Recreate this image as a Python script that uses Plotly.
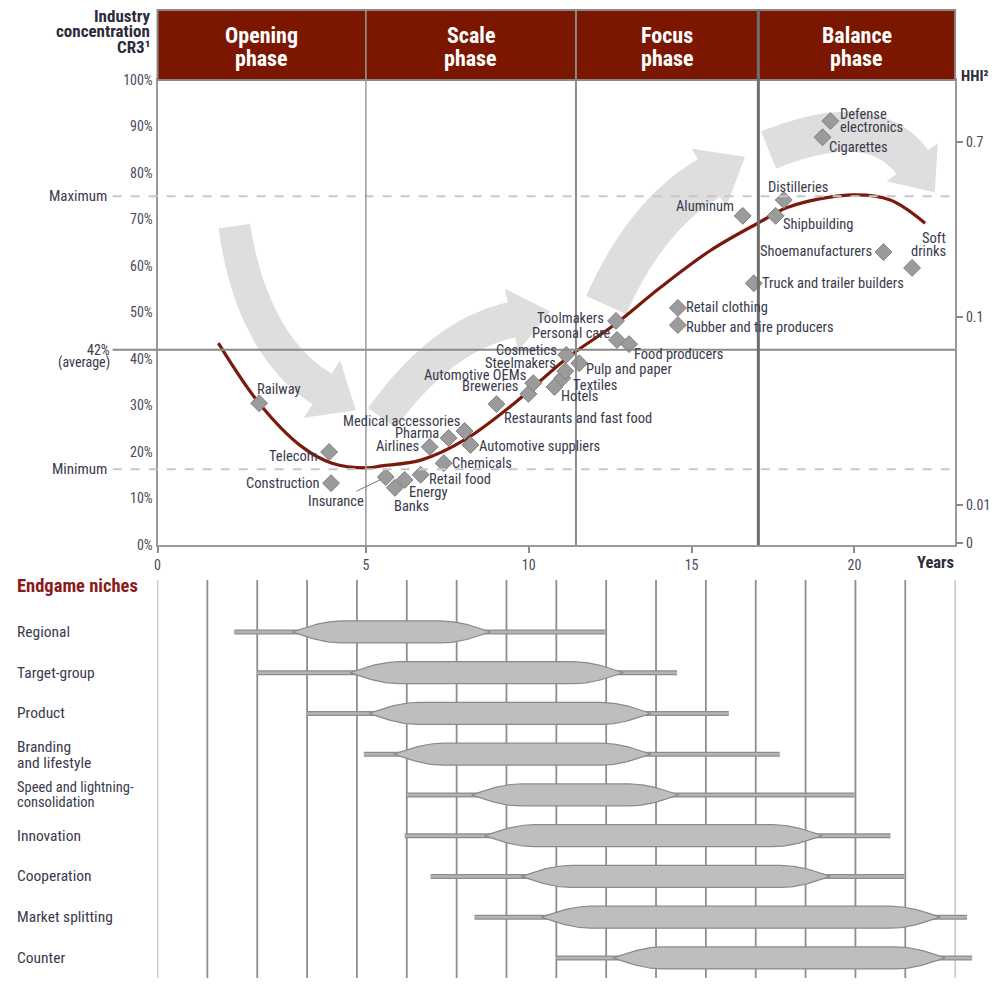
import math
import plotly.graph_objects as go

W, H = 995, 986
# measured vertical mapping of the photographed page: shown_y = OFF_Y + SCALE_Y * figure_y
OFF_Y, SCALE_Y = 7.9, 0.984
FONT = "Liberation Sans Narrow, Roboto Condensed, DejaVu Sans Condensed, Arial Narrow, sans-serif"
TXT = "#3a3a4c"
DARK = "#2c2c3c"
RED = "#7b1600"

# ---------------- data ----------------
phases = ["Opening<br>phase", "Scale<br>phase", "Focus<br>phase", "Balance<br>phase"]
phase_bounds = [5.0, 11.45, 17.05]          # years

x_tick_text = ["0", "5", "10", "15", "20"]
x_tick_years = [5, 10, 15, 20]               # "0" sits at the origin of the axis
y_ticks = [0, 10, 20, 30, 40, 50, 60, 70, 80, 90, 100]
y_tick_text = [f"{v}%" for v in y_ticks]

cr3_average = 42
cr3_maximum = 75
cr3_minimum = 16.3

hhi_text = ["0", "0.01", "0.1", "0.7"]
hhi_pos = [0.4, 8.6, 49.0, 86.7]

curve_years = [0.47, 1.72, 3.04, 3.96, 5.03, 5.49, 6.71, 8.03, 9.56, 11.21, 12.62,
               14.06, 15.59, 17.03, 17.98, 19.91, 21.1, 22.17]
curve_cr3 = [43.4, 30.5, 21.1, 17.6, 16.6, 17.0, 18.3, 22.6, 30.5, 40.4, 47.3,
             55.5, 63.4, 69.2, 72.7, 75.3, 74.2, 69.2]

industries = ["Railway", "Telecom", "Construction", "Insurance", "Banks", "Energy",
              "Retail food", "Chemicals", "Airlines", "Pharma", "Medical accessories",
              "Automotive suppliers", "Restaurants and fast food", "Breweries",
              "Automotive OEMs", "Hotels", "Textiles", "Steelmakers", "Cosmetics",
              "Pulp and paper", "Personal care", "Toolmakers", "Food producers",
              "Retail clothing", "Rubber and tire producers", "Aluminum",
              "Truck and trailer builders", "Distilleries", "Shipbuilding",
              "Shoemanufacturers", "Soft<br>drinks", "Cigarettes",
              "Defense<br>electronics"]
industry_years = [1.72, 3.87, 3.93, 5.61, 5.89, 6.19, 6.68, 7.39, 6.96, 7.54, 8.03,
                  8.21, 9.01, 9.99, 10.14, 10.79, 11.03, 11.12, 11.15, 11.55, 12.71,
                  12.68, 13.08, 14.58, 14.58, 16.57, 16.91, 17.83, 17.58, 20.89,
                  21.77, 19.02, 19.26]
industry_cr3 = [30.5, 20.0, 13.3, 14.6, 12.3, 14.0, 15.1, 17.6, 21.1, 23.0, 24.5,
                21.5, 30.3, 32.5, 34.8, 34.0, 35.9, 37.4, 40.9, 39.1, 44.1, 48.2,
                43.2, 51.0, 47.3, 70.8, 56.3, 74.2, 70.8, 63.0, 59.6, 87.7, 91.2]

niches = ["Regional", "Target-group", "Product", "Branding<br>and lifestyle",
          "Speed and lightning-<br>consolidation", "Innovation", "Cooperation",
          "Market splitting", "Counter"]
niche_start = [1.54, 2.0, 3.0, 4.14, 5.0, 4.96, 5.48, 6.36, 8.0]
niche_end = [8.98, 10.42, 11.46, 12.48, 13.98, 14.7, 14.98, 16.24, 16.34]
core_start = [2.7, 3.86, 4.24, 4.74, 6.3, 6.56, 7.3, 7.7, 9.14]
core_end = [6.68, 9.34, 9.9, 9.9, 10.46, 13.34, 13.5, 15.7, 15.8]

# ---------------- label placement (style) ----------------
label_style = [("left", -4, 14), ("right", -9, -5), ("right", -10, 0), None,
               ("center", 17, -19), ("center", 24, -13), ("left", 6, -5), ("left", 6, 0),
               ("right", -9, 0), ("right", -8, 5), ("right", -3, 10), ("left", 7, -1),
               ("left", 5, -14), ("right", -8, 7), ("right", -5, 8), ("left", 5, -10),
               ("left", 9, -7), ("right", -7, 8), ("right", -7, 4), ("left", 5, -6),
               ("right", -4, 6), ("right", -10, 2), ("left", 3, -10), ("left", 6, 0),
               ("left", 6, -2), ("right", -7, 9), ("left", 6, 0), ("center", 14, 13),
               ("left", 5, -9), ("right", -9, 1), ("right", 36, 23), ("left", 4, -10),
               ("left", 8, 0)]

# ---------------- geometry helpers ----------------
PX_L, PX_R, PX_T, PX_B = 155, 955, 80, 545
PX_PER_YEAR = (854 - 364) / 15.0
X0 = 5 - (364 - PX_L) / PX_PER_YEAR
X1 = 5 + (PX_R - 364) / PX_PER_YEAR


def px(x):
    return x / W


def fig_y(t):
    return (t - OFF_Y) / SCALE_Y


def py(t):
    return 1 - fig_y(t) / H


def arrow_path(p0, p1, p2, w0, w1, head_w, head_l, n=40):
    left, right = [], []
    for k in range(n + 1):
        t = k / n
        x = (1 - t) ** 2 * p0[0] + 2 * (1 - t) * t * p1[0] + t ** 2 * p2[0]
        y = (1 - t) ** 2 * p0[1] + 2 * (1 - t) * t * p1[1] + t ** 2 * p2[1]
        dx = 2 * (1 - t) * (p1[0] - p0[0]) + 2 * t * (p2[0] - p1[0])
        dy = 2 * (1 - t) * (p1[1] - p0[1]) + 2 * t * (p2[1] - p1[1])
        L = math.hypot(dx, dy)
        nx, ny = -dy / L, dx / L
        w = (w0 + (w1 - w0) * t) / 2
        left.append((x + nx * w, y + ny * w))
        right.append((x - nx * w, y - ny * w))
    tx, ty = dx / L, dy / L
    ex, ey = p2
    poly = left + [(ex + nx * head_w, ey + ny * head_w), (ex + tx * head_l, ey + ty * head_l),
                   (ex - nx * head_w, ey - ny * head_w)] + right[::-1]
    return "M " + " L ".join(f"{px(a):.4f},{py(b):.4f}" for a, b in poly) + " Z"


annotations = []


def add_text(text, x, y, xref, yref, anchor="center", xshift=0, yshift=0,
             spacing=14, size=14, color=TXT, bold=False):
    lines = text.split("<br>")
    n = len(lines)
    for k, ln in enumerate(lines):
        annotations.append(dict(
            x=x, y=y, xref=xref, yref=yref, text=f"<b>{ln}</b>" if bold else ln,
            showarrow=False, xanchor=anchor, yanchor="middle", align=anchor,
            xshift=xshift, yshift=yshift + ((n - 1) / 2 - k) * spacing,
            font=dict(family=FONT, size=size, color=color)))


fig = go.Figure()

# ---------------- top chart ----------------
fig.add_trace(go.Scatter(x=curve_years, y=curve_cr3, mode="lines",
                         line=dict(color="#7a1a0c", width=3.2, shape="spline", smoothing=1.0),
                         hoverinfo="skip", xaxis="x", yaxis="y"))
fig.add_trace(go.Scatter(x=industry_years, y=industry_cr3, mode="markers",
                         marker=dict(symbol="diamond", size=13, color="#9b9b9b",
                                     line=dict(color="#808080", width=1)),
                         text=industries, hoverinfo="text", xaxis="x", yaxis="y"))
# invisible trace so the HHI axis is drawn
fig.add_trace(go.Scatter(x=[X0], y=[0], mode="markers", marker=dict(opacity=0),
                         hoverinfo="skip", xaxis="x", yaxis="y2"))

LBL = 14.5
for name, xv, yv, st in zip(industries, industry_years, industry_cr3, label_style):
    if st is None:
        annotations.append(dict(x=xv, y=yv, xref="x", yref="y", text=name, showarrow=True,
                                ax=-50, ay=24, arrowhead=0, arrowwidth=1, arrowcolor="#777",
                                standoff=6, font=dict(family=FONT, size=LBL, color=TXT)))
        continue
    anchor, xs, ys = st
    add_text(name, xv, yv, "x", "y", anchor, xs, ys, spacing=12.5, size=LBL)

# header phase titles
edges = [X0] + phase_bounds + [X1]
for i, ph in enumerate(phases):
    add_text(ph, (edges[i] + edges[i + 1]) / 2, py(46.5), "x", "paper", "center",
             spacing=23, size=22, color="white", bold=True)

add_text("Industry<br>concentration<br>CR3¹", px(149), py(31), "paper", "paper", "right",
         spacing=15.5, size=17, color=DARK, bold=True)
add_text("Maximum", px(106), cr3_maximum, "paper", "y", "right", size=15)
add_text("Minimum", px(106), cr3_minimum, "paper", "y", "right", size=15)
add_text("42%<br>(average)", px(109), cr3_average, "paper", "y", "right", yshift=-7,
         spacing=12.5, size=14)
add_text("Years", px(956), py(563), "paper", "paper", "right", size=16.5, color=DARK, bold=True)
add_text("HHI²", px(959), py(76), "paper", "paper", "left", size=15, color=DARK, bold=True)
add_text("Endgame niches", px(12), py(586), "paper", "paper", "left", size=18.5,
         color="#8b1a1a", bold=True)

shapes = []
# gray process arrows
arrow_fill = "#dadada"
for p0, p1, p2, w0, w1, hw, hl in [
    ((232, 226), (250, 345), (320, 389), 32, 36, 34, 40),
    ((380, 418), (440, 335), (510, 320), 34, 36, 32, 40),
    ((605, 305), (645, 215), (708, 178), 44, 44, 34, 42),
    ((768, 150), (872, 108), (912, 162), 40, 40, 32, 38),
]:
    shapes.append(dict(type="path", path=arrow_path(p0, p1, p2, w0, w1, hw, hl),
                       xref="paper", yref="paper", fillcolor=arrow_fill,
                       line=dict(width=0), layer="below", opacity=0.9))

# reference lines
for yv, col, dash in [(cr3_maximum, "#c8c8c8", "dash"), (cr3_minimum, "#c8c8c8", "dash"),
                      (cr3_average, "#8a8a8a", "solid")]:
    shapes.append(dict(type="line", xref="paper", yref="y", x0=px(110), x1=px(PX_R),
                       y0=yv, y1=yv, line=dict(color=col, width=2, dash=dash)))

# header band
shapes.append(dict(type="rect", xref="paper", yref="paper", x0=px(PX_L), x1=px(PX_R),
                   y0=py(PX_T), y1=py(10), fillcolor=RED, line=dict(color="#8a8a8a", width=2)))
# phase dividers
for b, col, wd in zip(phase_bounds, ["#9a9a9a", "#8a8a8a", "#6e6e6e"], [1.5, 2, 3]):
    shapes.append(dict(type="line", xref="x", yref="paper", x0=b, x1=b, y0=py(PX_B), y1=py(10),
                       line=dict(color=col, width=wd)))

# ---------------- bottom chart ----------------
X2_MAX = (W - PX_L) / 50
for g in range(17):
    shapes.append(dict(type="line", xref="x2", yref="paper", x0=g, x1=g, y0=0, y1=py(580),
                       line=dict(color="#bdbdbd" if g == 16 else "#8e8e8e",
                                 width=1.3 if g in (0, 16) else 1.8), layer="below"))

for i in range(len(niches)):
    s, e, cs, ce = niche_start[i], niche_end[i], core_start[i], core_end[i]
    fig.add_trace(go.Scatter(x=[s, e], y=[i, i], mode="lines", line=dict(color="#8d8d8d", width=5),
                             hoverinfo="skip", xaxis="x2", yaxis="y3"))
    fig.add_trace(go.Scatter(x=[s, e], y=[i, i], mode="lines", line=dict(color="#b4b4b4", width=2.5),
                             hoverinfo="skip", xaxis="x2", yaxis="y3"))
    half = 0.27
    taper = min(1.0, (ce - cs) / 3)
    n = 24
    xs_top, ys_top = [], []
    for k in range(n + 1):
        xs_top.append(cs + taper * k / n)
        ys_top.append(i - half * math.sin(math.pi / 2 * k / n))
    for k in range(n + 1):
        xs_top.append(ce - taper * (n - k) / n)
        ys_top.append(i - half * math.sin(math.pi / 2 * (n - k) / n))
    xs_poly = xs_top + xs_top[::-1]
    ys_poly = ys_top + [2 * i - v for v in ys_top[::-1]]
    fig.add_trace(go.Scatter(x=xs_poly, y=ys_poly, mode="lines", fill="toself",
                             fillcolor="#bebebe", line=dict(color="#8a8a8a", width=1.2),
                             hoverinfo="skip", xaxis="x2", yaxis="y3"))

row_yshift = [0, 0, 0, -1, 0, 0, 0, 0, 0]
row_spacing = [15, 15, 15, 16, 14.5, 15, 15, 15, 15]
row_size = [15.5, 15.5, 15.5, 15.5, 14.5, 15.5, 15.5, 15.5, 15.5]
for i, nm in enumerate(niches):
    add_text(nm, px(12), i, "paper", "y3", "left", yshift=row_yshift[i],
             spacing=row_spacing[i], size=row_size[i])

ROW0, ROW_H = 632, 40.75
BOTTOM_SHOWN = OFF_Y + SCALE_Y * H
y3_top = (580 - ROW0) / ROW_H
y3_bot = (BOTTOM_SHOWN - ROW0) / ROW_H

TICKFONT = dict(family=FONT, size=14, color="#4a4a5c")
fig.update_layout(
    width=W, height=H, margin=dict(l=0, r=0, t=0, b=0, pad=0),
    paper_bgcolor="white", plot_bgcolor="white", showlegend=False,
    font=dict(family=FONT, color=TXT),
    xaxis=dict(domain=[px(PX_L), px(PX_R)], range=[X0, X1], anchor="y",
               tickvals=[X0] + x_tick_years, ticktext=x_tick_text,
               ticks="outside", ticklen=6, tickwidth=2, tickcolor="#8a8a8a",
               tickfont=TICKFONT,
               showline=True, linecolor="#999", linewidth=2, mirror=True,
               showgrid=False, zeroline=False),
    yaxis=dict(domain=[py(PX_B), py(PX_T)], range=[0, 100], anchor="x",
               tickvals=y_ticks, ticktext=y_tick_text, ticks="",
               tickfont=TICKFONT,
               showline=True, linecolor="#999", linewidth=2, mirror=True,
               showgrid=False, zeroline=False),
    yaxis2=dict(overlaying="y", side="right", anchor="x", range=[0, 100],
                tickvals=hhi_pos, ticktext=hhi_text, ticks="outside", ticklen=7,
                tickwidth=1.5, tickcolor="#8a8a8a", tickfont=TICKFONT,
                showline=False, showgrid=False, zeroline=False),
    xaxis2=dict(domain=[px(PX_L), 1.0], range=[0, X2_MAX], anchor="y3",
                showgrid=False, showticklabels=False, zeroline=False, showline=False),
    yaxis3=dict(domain=[0, py(580)], range=[y3_bot, y3_top], anchor="x2",
                showgrid=False, showticklabels=False, zeroline=False, showline=False),
    annotations=annotations, shapes=shapes,
)

fig.write_html("out.html")
